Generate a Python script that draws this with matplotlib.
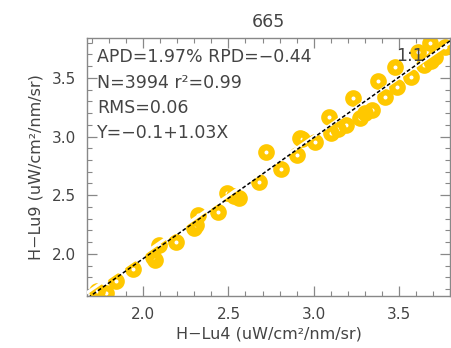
import numpy as np
import matplotlib
matplotlib.use("Agg")
import matplotlib.pyplot as plt
from matplotlib.ticker import MultipleLocator

# ======================================
# DATA
# ======================================

x_lu4 = [1.73, 1.78, 1.84, 1.94, 2.06, 2.09, 2.07, 2.19, 2.30, 2.32,
         2.31, 2.44, 2.49, 2.53, 2.56, 2.68, 2.72, 2.81, 2.90, 2.92,
         2.93, 3.01, 3.09, 3.10, 3.19, 3.23, 3.27, 3.34, 3.38, 3.42,
         3.48, 3.49, 3.57, 3.61, 3.65, 3.68, 3.69, 3.71, 3.77, 3.14, 3.30]
y_lu9 = [1.68, 1.67, 1.77, 1.87, 1.97, 2.08, 1.95, 2.10, 2.22, 2.33,
         2.25, 2.36, 2.52, 2.49, 2.48, 2.61, 2.87, 2.72, 2.84, 2.99,
         2.98, 2.95, 3.17, 3.03, 3.10, 3.33, 3.16, 3.23, 3.47, 3.34,
         3.59, 3.42, 3.51, 3.72, 3.61, 3.80, 3.64, 3.68, 3.76, 3.06, 3.20]

fit_intercept = -0.1
fit_slope = 1.03

stats_lines = ["APD=1.97% RPD=\u22120.44",
               "N=3994 r\u00b2=0.99",
               "RMS=0.06",
               "Y=\u22120.1+1.03X"]

x_range = (1.67, 3.80)
y_range = (1.64, 3.84)

TXT = "#444444"
GOLD = "#FFC800"

# ======================================
# PLOT
# ======================================

fig = plt.figure(figsize=(4.52, 3.48), dpi=100)
ax = fig.add_axes([0.1925, 0.149, 0.803, 0.742])

ax.plot(x_lu4, y_lu9, linestyle="none", marker="o", markersize=7.5,
        markerfacecolor="none", markeredgecolor=GOLD, markeredgewidth=4.5,
        zorder=2)

xx = np.array([1.5, 4.0])
ax.plot(xx, xx, color="white", lw=2.2, zorder=3)
ax.plot(xx, fit_intercept + fit_slope * xx, color="black", lw=1.1,
        linestyle=(0, (2.5, 1.5)), zorder=4)

ax.set_xlim(*x_range)
ax.set_ylim(*y_range)

for i, line in enumerate(stats_lines):
    ax.text(97 / 452, 1 - (57 + 25.5 * i) / 348, line, transform=fig.transFigure,
            fontsize=12.5, color=TXT, va="center", ha="left")
ax.text(410 / 452, 1 - 56 / 348, "1:1", transform=fig.transFigure,
        fontsize=12.5, color=TXT, va="center", ha="center", zorder=5)

ax.set_title("665", fontsize=12.5, color=TXT, pad=8)
ax.set_xlabel("H\u2212Lu4 (uW/cm\u00b2/nm/sr)", fontsize=11.5, color=TXT, labelpad=3)
ax.set_ylabel("H\u2212Lu9 (uW/cm\u00b2/nm/sr)", fontsize=11.5, color=TXT, labelpad=6)

ax.xaxis.set_major_locator(MultipleLocator(0.5))
ax.xaxis.set_minor_locator(MultipleLocator(0.1))
ax.yaxis.set_major_locator(MultipleLocator(0.5))
ax.yaxis.set_minor_locator(MultipleLocator(0.1))
ax.tick_params(which="both", direction="in", top=True, right=True,
               color="#888888", labelsize=11, labelcolor=TXT)
ax.tick_params(which="major", length=7, width=0.9, pad=8)
ax.tick_params(which="minor", length=3.5, width=0.8)
for s in ax.spines.values():
    s.set_color("#888888")
    s.set_linewidth(1.0)

plt.savefig("out.png", dpi=100)
